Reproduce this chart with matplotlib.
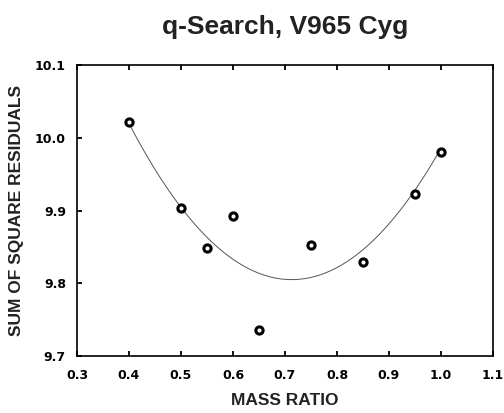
import numpy as np
import matplotlib
matplotlib.use("Agg")
import matplotlib.pyplot as plt

# Data
mass_ratio = [0.40, 0.50, 0.55, 0.60, 0.65, 0.75, 0.85, 0.95, 1.00]
residuals = [10.021, 9.903, 9.848, 9.893, 9.736, 9.852, 9.829, 9.923, 9.981]

# Fitted parabola: y = a*(q - q_min)^2 + y_min, drawn over the data range
fit_a = 2.19
fit_qmin = 0.713
fit_ymin = 9.805
fit_range = [0.40, 1.00]

xticks = [0.3, 0.4, 0.5, 0.6, 0.7, 0.8, 0.9, 1.0, 1.1]
yticks = [9.7, 9.8, 9.9, 10.0, 10.1]
title = "q-Search, V965 Cyg"
xlabel = "MASS RATIO"
ylabel = "SUM OF SQUARE RESIDUALS"

fig = plt.figure(figsize=(5.04, 4.13), dpi=100)
ax = fig.add_axes([0.1528, 0.138, 0.978 - 0.1528, 0.8426 - 0.138])

qq = np.linspace(fit_range[0], fit_range[1], 200)
ax.plot(qq, fit_a * (qq - fit_qmin) ** 2 + fit_ymin, color="#555555", lw=0.7, zorder=2)
ax.plot(mass_ratio, residuals, linestyle="none", marker="o", ms=5.2,
        mfc="white", mec="black", mew=2.2, zorder=3)

ax.set_xlim(0.3, 1.1)
ax.set_ylim(9.7, 10.1)
ax.set_xticks(xticks)
ax.set_yticks(yticks)
ax.set_xticklabels([f"{v:.1f}" for v in xticks])
ax.set_yticklabels([f"{v:.1f}" for v in yticks])

for lab in ax.get_xticklabels() + ax.get_yticklabels():
    lab.set_fontfamily("DejaVu Sans")
    lab.set_fontweight("bold")
    lab.set_fontsize(9)

ax.tick_params(axis="both", direction="in", length=3.5, width=1.3, color="black")
ax.tick_params(axis="x", top=True, pad=9)
ax.tick_params(axis="y", right=False, pad=8)

for s in ax.spines.values():
    s.set_linewidth(1.2)
    s.set_color("black")

label_font = dict(family="Liberation Sans", weight="bold", size=12.5, color="#222222")
ax.set_xlabel(xlabel, labelpad=8, **label_font)
ax.set_ylabel(ylabel, labelpad=8, **label_font)
ax.set_title(title, family="Liberation Sans", weight="bold", size=19,
             color="#222222", pad=22)

fig.savefig("out.png", dpi=100)
